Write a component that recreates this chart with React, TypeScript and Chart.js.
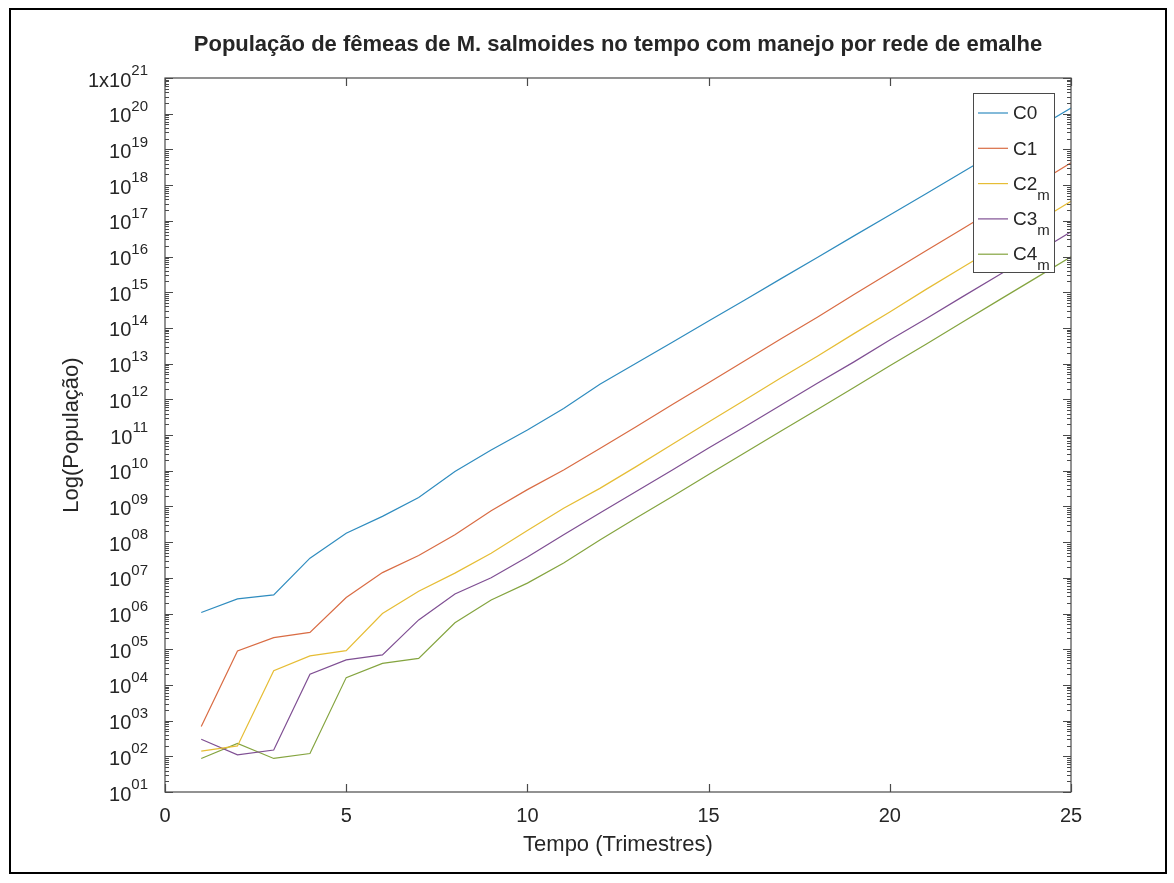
import React, { useEffect, useRef } from 'react';
import { Chart, registerables } from 'chart.js';

Chart.register(...registerables);

// ---- data ----
const TIMES = [1, 2, 3, 4, 5, 6, 7, 8, 9, 10, 11, 12, 13, 14, 15, 16, 17, 18, 19, 20, 21, 22, 23, 24, 25];

const C0 = [1.07e6, 2.57e6, 3.31e6, 3.55e7, 1.78e8, 5.25e8, 1.78e9, 9.55e9, 3.8e10, 1.38e11, 5.5e11, 2.63e12, 1.02e13,
  3.98e13, 1.55e14, 6.03e14, 2.4e15, 9.33e15, 3.72e16, 1.45e17, 5.75e17, 2.29e18, 9.12e18, 3.63e19, 1.45e20];
const C1 = [6.8e2, 8.9e4, 2.1e5, 2.95e5, 2.8e6, 1.4e7, 4.2e7, 1.6e8, 7.6e8, 2.95e9, 1.05e10, 4.2e10, 1.7e11,
  7.1e11, 2.9e12, 1.2e13, 5.0e13, 2.0e14, 8.5e14, 3.5e15, 1.45e16, 5.9e16, 2.45e17, 1.0e18, 4.2e18];
const C2M = [1.4e2, 1.95e2, 2.5e4, 6.5e4, 9.1e4, 1.0e6, 4.2e6, 1.35e7, 4.9e7, 2.1e8, 8.9e8, 3.2e9, 1.3e10,
  5.5e10, 2.3e11, 9.5e11, 4.0e12, 1.6e13, 6.8e13, 2.8e14, 1.2e15, 4.9e15, 2.0e16, 8.5e16, 3.5e17];
const C3M = [3.0e2, 1.1e2, 1.5e2, 2.0e4, 5.0e4, 6.9e4, 6.6e5, 3.5e6, 1.0e7, 3.8e7, 1.6e8, 6.5e8, 2.6e9,
  1.05e10, 4.3e10, 1.7e11, 6.9e11, 2.8e12, 1.1e13, 4.6e13, 1.8e14, 7.4e14, 3.0e15, 1.2e16, 4.9e16];
const C4M = [8.7e1, 2.3e2, 8.7e1, 1.2e2, 1.6e4, 4.0e4, 5.5e4, 5.5e5, 2.4e6, 7.1e6, 2.6e7, 1.15e8, 4.7e8,
  1.9e9, 7.8e9, 3.2e10, 1.3e11, 5.2e11, 2.1e12, 8.7e12, 3.5e13, 1.45e14, 5.9e14, 2.4e15, 9.8e15];

const SERIES_NAMES = ['C0', 'C1', 'C2', 'C3', 'C4'];
const SERIES_SUBS = ['', '', 'm', 'm', 'm'];
const SERIES_VALUES = [C0, C1, C2M, C3M, C4M];
const SERIES_COLORS = ['#2f8cbf', '#d96c44', '#e6bd35', '#7f4f93', '#84a43f'];

const X_TICKS = [0, 5, 10, 15, 20, 25];
const Y_TICK_VALUES = [1e1, 1e2, 1e3, 1e4, 1e5, 1e6, 1e7, 1e8, 1e9, 1e10, 1e11, 1e12, 1e13, 1e14, 1e15, 1e16,
  1e17, 1e18, 1e19, 1e20, 1e21];
const Y_TICK_BASES = ['10', '10', '10', '10', '10', '10', '10', '10', '10', '10', '10', '10', '10', '10', '10', '10',
  '10', '10', '10', '10', '1x10'];
const Y_TICK_SUPS = ['01', '02', '03', '04', '05', '06', '07', '08', '09', '10', '11', '12', '13', '14', '15', '16',
  '17', '18', '19', '20', '21'];
const Y_MINOR_FACTORS = [2, 3, 4, 5, 6, 7, 8, 9];

const TITLE = 'População de fêmeas de M. salmoides no tempo com manejo por rede de emalhe';
const X_TITLE = 'Tempo (Trimestres)';
const Y_TITLE = 'Log(População)';

const FONT = "'Liberation Sans', Arial, Helvetica, sans-serif";
const TXT = '#262626';
const AX = '#4a4a4a';

const deco = {
  id: 'deco',
  beforeDraw(chart: any) {
    const ctx = chart.ctx;
    ctx.save();
    ctx.fillStyle = '#ffffff';
    ctx.fillRect(0, 0, chart.width, chart.height);
    ctx.strokeStyle = '#000000';
    ctx.lineWidth = 2;
    ctx.strokeRect(10, 9, 1156, 864);
    ctx.restore();
  },
  afterDraw(chart: any) {
    const ctx = chart.ctx;
    const xs = chart.scales.x;
    const ys = chart.scales.y;
    const { left, right, top, bottom } = chart.chartArea;
    ctx.save();

    // axes box
    ctx.strokeStyle = AX;
    ctx.lineWidth = 1.2;
    ctx.strokeRect(left, top, right - left, bottom - top);

    // x ticks
    ctx.beginPath();
    X_TICKS.forEach((t) => {
      const px = Math.round(xs.getPixelForValue(t)) + 0.5;
      ctx.moveTo(px, bottom); ctx.lineTo(px, bottom - 8);
      ctx.moveTo(px, top); ctx.lineTo(px, top + 8);
    });
    // y ticks major + minor
    Y_TICK_VALUES.forEach((v, i) => {
      const py = Math.round(ys.getPixelForValue(v)) + 0.5;
      ctx.moveTo(left, py); ctx.lineTo(left + 8, py);
      ctx.moveTo(right, py); ctx.lineTo(right - 8, py);
      if (i < Y_TICK_VALUES.length - 1) {
        Y_MINOR_FACTORS.forEach((f) => {
          const my = Math.round(ys.getPixelForValue(v * f)) + 0.5;
          ctx.moveTo(left, my); ctx.lineTo(left + 4, my);
          ctx.moveTo(right, my); ctx.lineTo(right - 4, my);
        });
      }
    });
    ctx.stroke();

    ctx.fillStyle = TXT;
    // x tick labels
    ctx.font = `20px ${FONT}`;
    ctx.textAlign = 'center';
    ctx.textBaseline = 'middle';
    X_TICKS.forEach((t) => {
      ctx.fillText(String(t), xs.getPixelForValue(t), 816);
    });

    // y tick labels
    Y_TICK_VALUES.forEach((v, i) => {
      const py = ys.getPixelForValue(v);
      const rx = 148;
      ctx.textAlign = 'right';
      ctx.textBaseline = 'middle';
      ctx.font = `15px ${FONT}`;
      const sw = ctx.measureText(Y_TICK_SUPS[i]).width;
      ctx.fillText(Y_TICK_SUPS[i], rx, py - 7);
      ctx.font = `20px ${FONT}`;
      ctx.fillText(Y_TICK_BASES[i], rx - sw, py + 3);
    });

    // titles
    ctx.textAlign = 'center';
    ctx.textBaseline = 'middle';
    ctx.font = `bold 22px ${FONT}`;
    ctx.fillText(TITLE, (left + right) / 2, 45);
    ctx.font = `22px ${FONT}`;
    ctx.fillText(X_TITLE, (left + right) / 2, 845);
    ctx.save();
    ctx.translate(72, (top + bottom) / 2);
    ctx.rotate(-Math.PI / 2);
    ctx.fillText(Y_TITLE, 0, 0);
    ctx.restore();

    // legend
    const bx = 973.5, by = 93.5, bw = 81, bh = 179;
    ctx.fillStyle = '#ffffff';
    ctx.fillRect(bx, by, bw, bh);
    ctx.strokeStyle = AX;
    ctx.lineWidth = 1;
    ctx.strokeRect(bx, by, bw, bh);
    SERIES_NAMES.forEach((name, i) => {
      const ly = 113 + i * 35.3;
      ctx.strokeStyle = SERIES_COLORS[i];
      ctx.lineWidth = 1.2;
      ctx.beginPath();
      ctx.moveTo(978, ly); ctx.lineTo(1008, ly);
      ctx.stroke();
      ctx.fillStyle = TXT;
      ctx.textAlign = 'left';
      ctx.textBaseline = 'middle';
      ctx.font = `19px ${FONT}`;
      ctx.fillText(name, 1013, ly + 1);
      const w = ctx.measureText(name).width;
      if (SERIES_SUBS[i]) {
        ctx.font = `15px ${FONT}`;
        ctx.fillText(SERIES_SUBS[i], 1013 + w, ly + 12);
      }
    });

    ctx.restore();
  },
};

export default function App() {
  const ref = useRef<HTMLCanvasElement>(null);
  useEffect(() => {
    if (!ref.current) return;
    const datasets = SERIES_VALUES.map((vals, i) => ({
      label: SERIES_NAMES[i] + SERIES_SUBS[i],
      data: vals.map((v, j) => ({ x: TIMES[j], y: v })),
      borderColor: SERIES_COLORS[i],
      backgroundColor: SERIES_COLORS[i],
      borderWidth: 1.2,
      pointRadius: 0,
      tension: 0,
      fill: false,
    }));
    const chart = new Chart(ref.current, {
      type: 'line',
      data: { datasets },
      options: {
        animation: false,
        responsive: true,
        maintainAspectRatio: false,
        layout: { padding: { left: 165, top: 78, right: 103, bottom: 91 } },
        plugins: { legend: { display: false }, title: { display: false }, tooltip: { enabled: false } },
        scales: {
          x: { type: 'linear', min: 0, max: 25, display: false },
          y: { type: 'logarithmic', min: 1e1, max: 1e21, display: false },
        },
      },
      plugins: [deco],
    } as any);
    return () => chart.destroy();
  }, []);
  return (
    <div style={{ position: 'fixed', left: 0, top: 0, width: 1174, height: 883, background: '#fff' }}>
      <canvas ref={ref} />
    </div>
  );
}
